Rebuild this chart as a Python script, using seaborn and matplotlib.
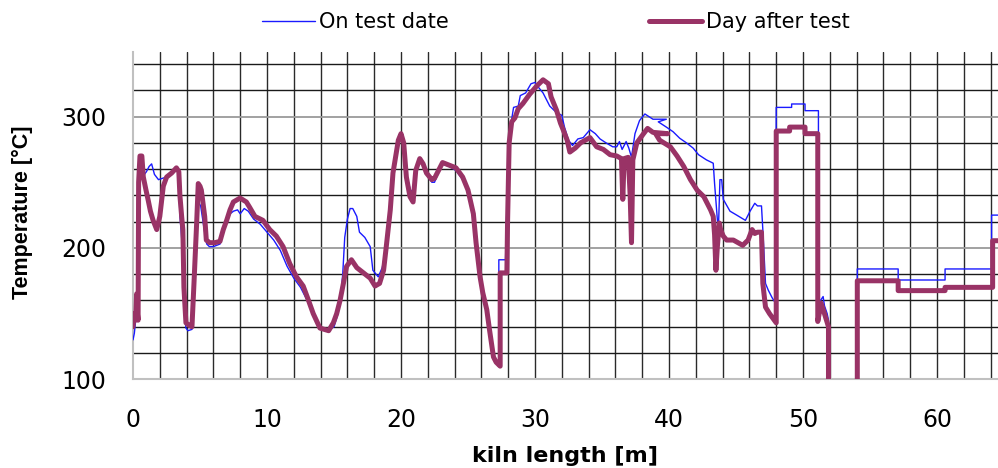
import numpy as np
import matplotlib
matplotlib.use("Agg")
import matplotlib.pyplot as plt
import seaborn as sns

# ---------------- data ----------------
series_names = ["On test date", "Day after test"]

# kiln position [m] and temperature [°C] -- "On test date"
x_test = [
    0.00, 0.10, 0.20, 0.30, 0.35, 0.40, 0.45, 0.55, 0.70, 0.85,
    1.00, 1.20, 1.39, 1.60, 1.90, 2.20, 2.50, 2.90, 3.24, 3.40,
    3.50, 3.65, 3.75, 3.85, 3.95, 4.10, 4.40, 4.55, 4.70, 4.80,
    4.87, 5.05, 5.30, 5.50, 5.70, 6.00, 6.50, 6.75, 7.00, 7.25,
    7.50, 7.80, 8.00, 8.30, 8.60, 9.00, 9.50, 10.0, 10.5, 11.0,
    11.5, 12.0, 12.5, 13.0, 13.5, 14.0, 14.5, 15.0, 15.3, 15.5,
    15.65, 15.8, 16.0, 16.2, 16.4, 16.7, 16.9, 17.3, 17.7, 17.9,
    18.3, 18.6, 18.9, 19.2, 19.4, 19.8, 20.0, 20.2, 20.4, 20.7,
    20.9, 21.1, 21.4, 21.65, 21.9, 22.3, 22.5, 22.9, 23.1, 23.6,
    24.1, 24.6, 25.0, 25.4, 25.6, 25.9, 26.1, 26.4, 26.6, 26.9,
    27.1, 27.3, 27.3, 27.8, 27.95, 28.1, 28.26, 28.4, 28.75, 28.9,
    29.3, 29.7, 30.0, 30.2, 30.6, 31.1, 31.6, 32.0, 32.2, 32.5,
    32.8, 33.2, 33.6, 34.1, 34.5, 34.85, 35.3, 35.8, 36.1, 36.3,
    36.5, 36.8, 37.0, 37.2, 37.46, 37.8, 38.2, 38.5, 38.8, 39.8,
    39.2, 39.8, 40.3, 40.8, 41.3, 41.8, 42.2, 42.8, 43.3, 43.4,
    43.68, 43.8, 43.93, 44.05, 44.55, 45.05, 45.7, 46.05, 46.4, 46.6,
    46.9, 47.0, 47.2, 47.4, 47.7, 47.95, 48.0, 49.15, 49.15, 50.15,
    50.15, 51.15, 51.15, 51.3, 51.5, 51.6, 51.8, 51.9, 51.95, 54.05,
    54.05, 57.1, 57.1, 60.6, 60.6, 64.07, 64.07, 64.6,
]
t_test = [
    130, 135, 145, 160, 150, 145, 255, 268, 262, 256,
    258, 262, 264, 256, 252, 253, 254, 257, 260, 258,
    225, 205, 185, 150, 139, 137, 138, 170, 200, 215,
    235, 232, 215, 203, 201, 201, 203, 212, 220, 226,
    228, 229, 226, 230, 228, 222, 218, 212, 206, 198,
    186, 177, 170, 160, 148, 139, 137, 140, 150, 162,
    180, 208, 222, 230, 230, 224, 212, 208, 201, 183,
    178, 185, 201, 229, 257, 282, 287, 279, 256, 244,
    243, 259, 268, 264, 256, 250, 250, 260, 264, 262,
    259, 252, 244, 226, 204, 178, 166, 153, 138, 118,
    114, 112, 191, 191, 250, 287, 298, 307, 308, 316,
    318, 325, 326, 323, 318, 308, 303, 301, 292, 282,
    278, 283, 284, 290, 287, 283, 280, 277, 277, 281,
    275, 281, 276, 269, 287, 297, 302, 300, 298, 298,
    296, 292, 288.5, 283.5, 280, 276, 271, 267, 264.5, 249,
    212, 252, 252, 237, 228, 225, 221, 228, 234, 232,
    232, 214, 173, 168, 162, 158, 307, 307, 309.6, 309.6,
    304.5, 304.5, 158, 160, 163, 156, 150, 145, 30, 30,
    184, 184, 175.6, 175.6, 184, 184, 225, 225,
]

# kiln position [m] and temperature [°C] -- "Day after test"
x_after = [
    0.00, 0.10, 0.20, 0.27, 0.33, 0.38, 0.42, 0.52, 0.66, 0.77,
    0.95, 1.14, 1.30, 1.50, 1.77, 2.00, 2.26, 2.51, 2.88, 3.24,
    3.42, 3.50, 3.63, 3.72, 3.80, 3.95, 4.20, 4.40, 4.55, 4.75,
    4.87, 5.00, 5.10, 5.35, 5.47, 5.72, 6.10, 6.49, 6.74, 6.99,
    7.24, 7.49, 7.99, 8.46, 8.70, 9.10, 9.70, 10.2, 10.7, 11.2,
    11.7, 12.2, 12.7, 13.1, 13.45, 13.95, 14.6, 14.95, 15.2, 15.45,
    15.7, 15.94, 16.3, 16.7, 17.2, 17.7, 18.06, 18.4, 18.7, 18.9,
    19.2, 19.4, 19.8, 20.0, 20.2, 20.4, 20.67, 20.9, 21.1, 21.4,
    21.65, 21.9, 22.3, 22.5, 22.9, 23.1, 23.6, 24.1, 24.6, 25.0,
    25.4, 25.6, 25.9, 26.1, 26.4, 26.6, 26.9, 27.1, 27.4, 27.4,
    27.9, 27.95, 28.07, 28.26, 28.5, 28.75, 29.1, 29.6, 30.1, 30.6,
    31.0, 31.2, 31.6, 31.9, 32.1, 32.4, 32.6, 33.0, 33.4, 34.1,
    34.6, 35.1, 35.6, 36.1, 36.45, 36.55, 36.65, 36.96, 37.1, 37.2,
    37.3, 37.6, 38.1, 38.4, 38.8, 39.9, 39.0, 39.3, 40.1, 40.6,
    41.1, 41.6, 42.1, 42.6, 43.1, 43.3, 43.4, 43.5, 43.6, 43.75,
    43.85, 44.05, 44.3, 44.8, 45.5, 45.9, 46.2, 46.4, 46.6, 46.9,
    47.0, 47.2, 47.5, 48.0, 48.0, 49.0, 49.0, 50.15, 50.15, 51.1,
    51.1, 51.35, 51.6, 51.9, 51.9, 54.05, 54.05, 57.1, 57.1, 60.6,
    60.6, 64.15, 64.15, 64.6,
]
t_after = [
    140, 150, 145, 165, 150, 145, 250, 270, 270, 254,
    245, 236, 228, 221, 214, 224, 247, 254, 257, 261,
    258, 240, 224, 214, 170, 143, 141, 140, 173, 219,
    249, 247, 244, 224, 206, 204, 204, 205, 214, 221,
    229, 235, 238, 235, 231, 224, 221, 214, 209, 201,
    188, 178, 171, 160, 150, 139, 137, 143, 150, 160,
    173, 186, 191, 185, 181, 177, 171, 173, 183, 201,
    229, 257, 282, 287, 280, 254, 239, 235, 259, 268,
    264, 257, 252, 253, 261, 265, 263, 261, 254, 244,
    226, 204, 178, 166, 153, 138, 117, 113, 110, 181,
    181, 219, 280, 296, 299, 306, 310, 317, 323, 328,
    325, 315, 305, 295, 290, 282, 273, 276, 280, 284,
    277, 275, 271, 270, 268, 237, 268, 269, 240, 204,
    267, 280, 287, 291, 288, 287, 287, 282, 277, 270,
    262, 252, 244, 239, 229, 224, 210, 183, 200, 219,
    214, 209, 206, 206, 202, 206, 214, 211, 212, 212,
    173, 155, 150, 143, 289, 289, 292, 292, 287, 287,
    144, 158, 150, 140, 30, 30, 175, 175, 167.5, 167.5,
    170, 170, 205.5, 205.5,
]

assert len(x_test) == len(t_test)
assert len(x_after) == len(t_after)

# ---------------- styling ----------------
sns.set_style("white")
plt.rcParams["font.family"] = ["DejaVu Sans"]
plt.rcParams["text.color"] = "black"
plt.rcParams["axes.labelcolor"] = "black"
plt.rcParams["xtick.color"] = "black"
plt.rcParams["ytick.color"] = "black"

W, H = 998, 468
fig = plt.figure(figsize=(W / 100, H / 100), dpi=100)
ax_left, ax_right = 133, 998
ax_top, ax_bottom = 51.7, 379.3
ax = fig.add_axes([ax_left / W, 1 - ax_bottom / H,
                   (ax_right - ax_left) / W, (ax_bottom - ax_top) / H])

blue = "#1a1aff"
plum = "#993366"

sns.lineplot(x=x_test, y=t_test, sort=False, estimator=None, ax=ax,
             color=blue, linewidth=1.0, label=series_names[0], legend=False)
sns.lineplot(x=x_after, y=t_after, sort=False, estimator=None, ax=ax,
             color=plum, linewidth=3.6, label=series_names[1], legend=False,
             solid_joinstyle="round")

ax.set_xlim(0, 64.55)
ax.set_ylim(100, 349.4)

# ticks & grid
ax.set_xticks(np.arange(0, 61, 10))
ax.set_xticks(np.arange(2, 65, 2), minor=True)
ax.xaxis.remove_overlapping_locs = False
ax.set_yticks([100, 200, 300])
ax.set_yticks(np.arange(120, 341, 20), minor=True)

ax.set_axisbelow(True)
ax.grid(False)
ax.grid(which="minor", axis="x", color="#2a2a2a", linewidth=1.0)
ax.grid(which="minor", axis="y", color="#1a1a1a", linewidth=1.0)
ax.grid(which="major", axis="y", color="#9a9a9a", linewidth=1.3)

ax.tick_params(axis="x", which="major", direction="out", length=6, width=1.2,
               color="#c0c0c0", labelsize=17, pad=15, labelcolor="black")
ax.tick_params(axis="y", which="major", direction="out", length=7, width=1.2,
               color="#c0c0c0", labelsize=17, pad=12, labelcolor="black")
ax.tick_params(which="minor", length=0)

for side in ("top", "right"):
    ax.spines[side].set_visible(False)
for side in ("left", "bottom"):
    ax.spines[side].set_color("#c0c0c0")
    ax.spines[side].set_linewidth(1.5)
    ax.spines[side].set_zorder(1.5)

# axis labels
ax.set_xlabel("kiln length [m]", fontsize=16, fontweight="bold", color="black")
ax.xaxis.set_label_coords(0.5, -0.205)
ax.set_ylabel("Temperature [°C]", fontsize=15.5, fontweight="bold",
              family=["Liberation Sans", "DejaVu Sans"], color="black")
ax.yaxis.set_label_coords((33 - ax_left) / (ax_right - ax_left), 0.509)

# legend at the top
handles = ax.get_lines()[:2]
leg = fig.legend(handles, series_names, loc="center", bbox_to_anchor=(0.557, 0.953),
                 ncol=2, frameon=False, fontsize=15, handlelength=2.55,
                 handletextpad=0.2, columnspacing=9.6, borderpad=0.0)
for txt in leg.get_texts():
    txt.set_color("black")

fig.savefig("out.png", dpi=100)
